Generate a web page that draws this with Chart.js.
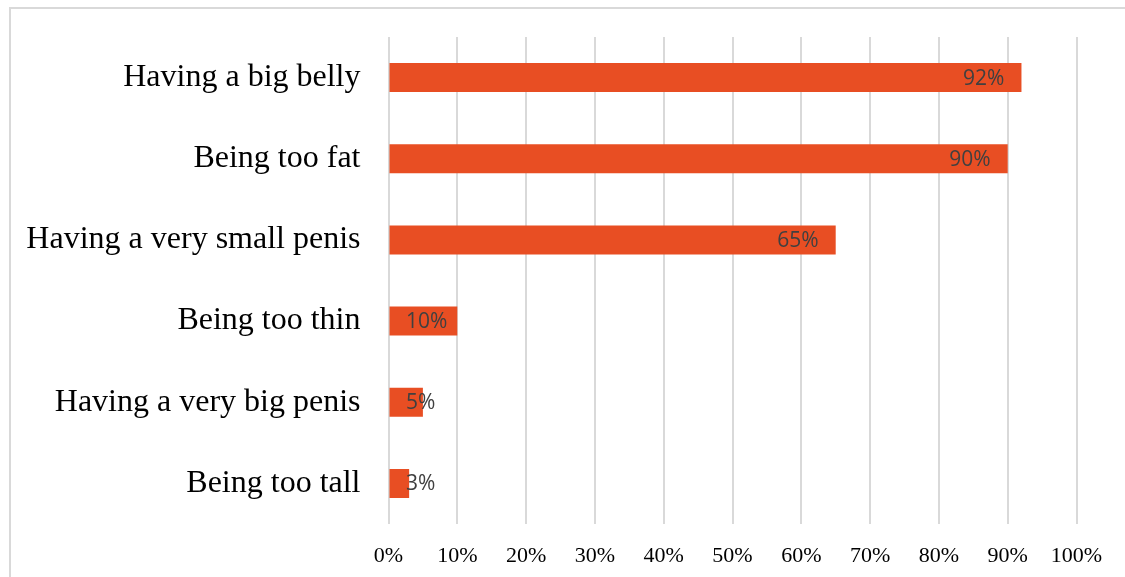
<!DOCTYPE html>
<html>
<head>
<meta charset="utf-8">
<script src="https://cdn.jsdelivr.net/npm/chart.js@4/dist/chart.umd.min.js"></script>
<style>
  html, body { margin: 0; padding: 0; background: #fff; }
  body { width: 1125px; height: 577px; position: relative; overflow: hidden; }
  .frame {
    position: absolute; left: 9px; top: 7px; width: 1200px; height: 700px;
    border-top: 2px solid #d9d9d9; border-left: 2px solid #d9d9d9;
    box-sizing: border-box;
  }
  .wrap { position: absolute; left: 0; top: 0; width: 1125px; height: 577px; }
</style>
</head>
<body>
<div class="frame"></div>
<div class="wrap"><canvas id="c" width="1125" height="577"></canvas></div>
<script>
// Categories, values (percent) and x-axis tick values
const categories = [
  'Having a big belly',
  'Being too fat',
  'Having a very small penis',
  'Being too thin',
  'Having a very big penis',
  'Being too tall'
];
const shares = [92, 90, 65, 10, 5, 3];
const tickValues = [0, 10, 20, 30, 40, 50, 60, 70, 80, 90, 100];

const BAR_COLOR = '#E84E23';
const GRID_COLOR = '#d9d9d9';

// Value labels at the inside end of each bar, kept inside the bar's start when it is short
const valueLabels = {
  id: 'valueLabels',
  afterDatasetsDraw(chart) {
    const ctx = chart.ctx;
    const meta = chart.getDatasetMeta(0);
    ctx.save();
    ctx.font = '21px "Open Sans"';
    ctx.fillStyle = '#404040';
    ctx.textBaseline = 'middle';
    ctx.textAlign = 'left';
    meta.data.forEach((bar, i) => {
      const text = shares[i] + '%';
      const w = ctx.measureText(text).width;
      let left = bar.x - 17 - w;
      const minLeft = bar.base + 16.5;
      if (left < minLeft) left = minLeft;
      ctx.fillText(text, left, bar.y + 1);
    });
    ctx.restore();
  }
};

new Chart(document.getElementById('c'), {
  type: 'bar',
  data: {
    labels: categories,
    datasets: [{
      data: shares,
      backgroundColor: BAR_COLOR,
      borderWidth: 0,
      categoryPercentage: 1,
      barPercentage: 0.357
    }]
  },
  options: {
    indexAxis: 'y',
    responsive: false,
    animation: false,
    devicePixelRatio: 1,
    layout: { padding: { top: 37, right: 48.5, left: 0, bottom: 0 } },
    plugins: {
      legend: { display: false },
      tooltip: { enabled: false }
    },
    scales: {
      x: {
        min: 0,
        max: 100,
        afterBuildTicks(axis) {
          axis.ticks = tickValues.map(v => ({ value: v }));
        },
        afterFit(axis) {
          axis.height = 53;
          axis.paddingLeft = 0;
          axis.paddingRight = 0;
        },
        grid: { color: GRID_COLOR, lineWidth: 2, drawTicks: false },
        border: { display: false },
        ticks: {
          padding: 19,
          color: '#000',
          font: { family: '"Liberation Serif", "Times New Roman", serif', size: 22 },
          maxRotation: 0,
          callback: v => v + '%'
        }
      },
      y: {
        afterFit(axis) {
          axis.width = 388.5;
          axis.paddingTop = 0;
          axis.paddingBottom = 0;
        },
        grid: { display: false, drawTicks: false },
        border: { display: false },
        ticks: {
          padding: 28,
          color: '#000',
          font: { family: '"Liberation Serif", "Times New Roman", serif', size: 32 }
        }
      }
    }
  },
  plugins: [valueLabels]
});
</script>
</body>
</html>
